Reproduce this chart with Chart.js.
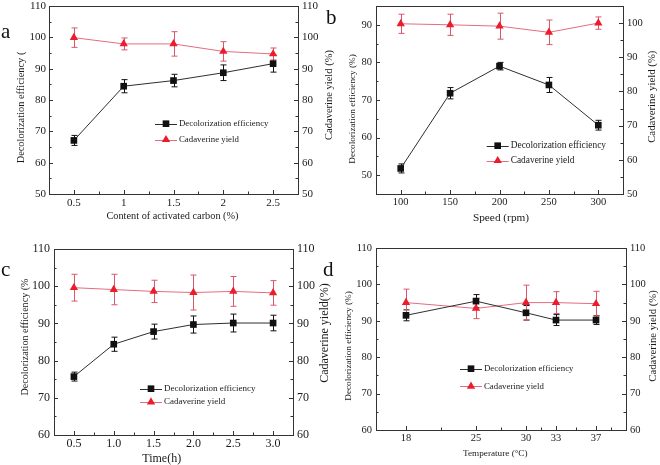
<!DOCTYPE html>
<html>
<head>
<meta charset="utf-8">
<title>Decolorization efficiency and cadaverine yield</title>
<script src="https://cdn.jsdelivr.net/npm/chart.js@4.4.1/dist/chart.umd.min.js"></script>
<style>
  html, body { margin: 0; padding: 0; background: #fff; }
  #figure { position: relative; width: 660px; height: 465px; overflow: hidden; }
  #figure canvas { position: absolute; }
  .tag { position: absolute; font-family: 'Liberation Serif', 'Times New Roman', serif; font-size: 21px; color: #111; line-height: 1; }
</style>
</head>
<body>
<div id="figure">
  <canvas id="grafico-a" width="345" height="232" style="left:0;top:0"></canvas>
  <canvas id="grafico-b" width="330" height="232" style="left:330px;top:0"></canvas>
  <canvas id="grafico-c" width="345" height="233" style="left:0;top:232px"></canvas>
  <canvas id="grafico-d" width="330" height="233" style="left:330px;top:232px"></canvas>
  <div class="tag" style="left:1px;top:21px">a</div>
  <div class="tag" style="left:326px;top:7px">b</div>
  <div class="tag" style="left:1px;top:259px">c</div>
  <div class="tag" style="left:323px;top:259px">d</div>
</div>
<script>
// a: content of activated carbon (%)
var carbonContent = [0.5, 1, 1.5, 2, 2.5];
var carbonDecol = [67.1, 84.4, 86.2, 88.7, 91.6];
var carbonDecolErr = [1.6, 2.1, 2.0, 2.5, 2.7];
var carbonYield = [99.9, 97.9, 97.9, 95.5, 94.7];
var carbonYieldErr = [3.1, 1.9, 3.9, 3.1, 1.9];

// b: speed (rpm)
var speedRpm = [100, 150, 200, 250, 300];
var speedDecol = [51.8, 71.8, 79.0, 74.0, 63.3];
var speedDecolErr = [1.2, 1.5, 1.0, 2.0, 1.3];
var speedYield = [99.8, 99.5, 99.1, 97.3, 100.0];
var speedYieldErr = [2.8, 3.1, 3.8, 3.6, 1.8];

// c: time (h)
var timeHours = [0.5, 1.0, 1.5, 2.0, 2.5, 3.0];
var timeDecol = [75.7, 84.4, 87.8, 89.7, 90.1, 90.1];
var timeDecolErr = [1.2, 1.9, 2.0, 2.3, 2.4, 2.1];
var timeYield = [99.6, 99.1, 98.6, 98.3, 98.6, 98.2];
var timeYieldErr = [3.6, 4.1, 3.0, 4.7, 4.0, 3.3];

// d: temperature (°C)
var tempC = [18, 25, 30, 33, 37];
var tempDecol = [91.5, 95.4, 92.2, 90.2, 90.2];
var tempDecolErr = [1.5, 1.8, 2.0, 1.5, 1.2];
var tempYield = [95.0, 93.4, 95.0, 95.0, 94.7];
var tempYieldErr = [3.7, 2.8, 4.8, 3.0, 3.4];

// tick positions
var ticks50to110 = [50, 60, 70, 80, 90, 100, 110];
var minor55to105 = [55, 65, 75, 85, 95, 105];
var ticks60to110 = [60, 70, 80, 90, 100, 110];
var minor65to105 = [65, 75, 85, 95, 105];
var speedLeftTicks = [50, 60, 70, 80, 90];
var speedLeftMinor = [45, 55, 65, 75, 85, 95];
var speedRightTicks = [50, 60, 70, 80, 90, 100];
var speedRightMinor = [55, 65, 75, 85, 95, 105];
var carbonMinor = [0.75, 1.25, 1.75, 2.25];
var speedMinor = [125, 175, 225, 275];
var timeMinor = [0.75, 1.25, 1.75, 2.25, 2.75];
var tempMinor = [21.5, 27.5, 31.5, 35, 38.5];

var legendNames = ['Decolorization efficiency', 'Cadaverine yield'];

var SERIF = "'Liberation Serif', 'Times New Roman', serif";
Chart.defaults.font.family = SERIF;
Chart.defaults.color = '#1a1a1a';
Chart.defaults.animation = false;

var decolColor = '#2e2e2e';
var yieldLine = '#e46c80';
var yieldMark = '#ec1c2c';
var yieldBar = '#d9566b';

var decoById = {};

function series(xs, ys) {
    return xs.map(function(x, i) { return {x: x, y: ys[i]}; });
}

function drawText(ctx, text, x, y, size, rotate) {
    ctx.save();
    ctx.translate(x, y);
    if (rotate) ctx.rotate(-Math.PI / 2);
    ctx.font = size + 'px ' + SERIF;
    ctx.fillStyle = '#1a1a1a';
    ctx.textAlign = 'center';
    ctx.textBaseline = 'middle';
    ctx.fillText(text, 0, 0);
    ctx.restore();
}

function drawMarker(ctx, style, x, y, r, color) {
    ctx.save();
    ctx.fillStyle = color;
    ctx.beginPath();
    if (style === 'rect') {
        var s = r * Math.SQRT1_2;
        ctx.rect(x - s, y - s, 2 * s, 2 * s);
    } else {
        ctx.moveTo(x, y - r);
        ctx.lineTo(x + r * 0.866, y + r / 2);
        ctx.lineTo(x - r * 0.866, y + r / 2);
        ctx.closePath();
    }
    ctx.fill();
    ctx.restore();
}

// error bars, frame, inward ticks, axis titles and legend
var panelDeco = {
    id: 'panelDeco',
    beforeDatasetsDraw: function(chart) {
        var ctx = chart.ctx;
        var xs = chart.scales.x;
        chart.data.datasets.forEach(function(ds) {
            var ys = chart.scales[ds.yAxisID];
            ctx.save();
            ctx.strokeStyle = ds.errorColor;
            ctx.lineWidth = 1;
            ds.data.forEach(function(p, j) {
                var e = ds.errorBars[j];
                var px = Math.round(xs.getPixelForValue(p.x)) + 0.5;
                var top = ys.getPixelForValue(p.y + e);
                var bot = ys.getPixelForValue(p.y - e);
                ctx.beginPath();
                ctx.moveTo(px, top); ctx.lineTo(px, bot);
                ctx.moveTo(px - 3, top); ctx.lineTo(px + 3, top);
                ctx.moveTo(px - 3, bot); ctx.lineTo(px + 3, bot);
                ctx.stroke();
            });
            ctx.restore();
        });
    },
    afterDraw: function(chart) {
        var d = decoById[chart.canvas.id];
        var ctx = chart.ctx;
        var a = chart.chartArea;
        var xs = chart.scales.x, yl = chart.scales.y, yr = chart.scales.y1;

        ctx.save();
        ctx.strokeStyle = '#333';
        ctx.lineWidth = 1;
        ctx.strokeRect(Math.round(a.left) + 0.5, Math.round(a.top) + 0.5,
                       Math.round(a.right - a.left), Math.round(a.bottom - a.top));
        ctx.beginPath();
        function xMark(v, len) {
            var px = Math.round(xs.getPixelForValue(v)) + 0.5;
            ctx.moveTo(px, a.bottom); ctx.lineTo(px, a.bottom - len);
        }
        function yMark(scale, v, len, right) {
            var py = Math.round(scale.getPixelForValue(v)) + 0.5;
            if (right) { ctx.moveTo(a.right, py); ctx.lineTo(a.right - len, py); }
            else { ctx.moveTo(a.left, py); ctx.lineTo(a.left + len, py); }
        }
        d.xTicks.forEach(function(v) { xMark(v, 4); });
        d.xMinor.forEach(function(v) { xMark(v, 2.5); });
        d.yTicks.forEach(function(v) { yMark(yl, v, 4, false); });
        d.yMinor.forEach(function(v) { yMark(yl, v, 2.5, false); });
        d.y1Ticks.forEach(function(v) { yMark(yr, v, 4, true); });
        d.y1Minor.forEach(function(v) { yMark(yr, v, 2.5, true); });
        ctx.stroke();
        ctx.restore();

        drawText(ctx, d.xTitle.text, d.xTitle.x, d.xTitle.y, d.xTitle.size, false);
        drawText(ctx, d.yTitle.text, d.yTitle.x, d.yTitle.y, d.yTitle.size, true);
        drawText(ctx, d.y1Title.text, d.y1Title.x, d.y1Title.y, d.y1Title.size, true);

        // legend
        var lg = d.legend;
        chart.data.datasets.forEach(function(ds, i) {
            var y = lg.y + i * lg.dy;
            ctx.save();
            ctx.strokeStyle = ds.borderColor;
            ctx.lineWidth = 1;
            ctx.beginPath();
            ctx.moveTo(lg.x, Math.round(y) + 0.5);
            ctx.lineTo(lg.x + 22, Math.round(y) + 0.5);
            ctx.stroke();
            ctx.restore();
            drawMarker(ctx, ds.pointStyle, lg.x + 11, y, ds.pointRadius, ds.pointBackgroundColor);
            ctx.save();
            ctx.font = lg.size + 'px ' + SERIF;
            ctx.fillStyle = '#1a1a1a';
            ctx.textBaseline = 'middle';
            ctx.fillText(ds.label, lg.x + 24, y);
            ctx.restore();
        });
    }
};

function makePanel(id, p) {
    decoById[id] = p;
    var ctx = document.getElementById(id).getContext('2d');
    function yScale(pos, min, max, ticks, width, pad, size) {
        return {
            type: 'linear', position: pos, min: min, max: max,
            grid: { display: false, drawTicks: false },
            border: { display: false },
            ticks: { padding: pad, font: { size: size }, color: '#1a1a1a' },
            afterBuildTicks: function(s) { s.ticks = ticks.map(function(v) { return {value: v}; }); },
            afterFit: function(s) { s.width = width; s.paddingTop = 0; s.paddingBottom = 0; }
        };
    }
    return new Chart(ctx, {
        type: 'line',
        data: {
            datasets: [{
                label: legendNames[0],
                data: series(p.x, p.dec),
                errorBars: p.decErr,
                errorColor: '#111',
                yAxisID: 'y',
                borderColor: decolColor,
                borderWidth: 1,
                pointStyle: 'rect',
                pointRadius: 4.7,
                pointBackgroundColor: '#111',
                pointBorderColor: '#111',
                pointBorderWidth: 0,
                tension: 0
            }, {
                label: legendNames[1],
                data: series(p.x, p.yld),
                errorBars: p.yldErr,
                errorColor: yieldBar,
                yAxisID: 'y1',
                borderColor: yieldLine,
                borderWidth: 1,
                pointStyle: 'triangle',
                pointRadius: 4.8,
                pointBackgroundColor: yieldMark,
                pointBorderColor: yieldMark,
                pointBorderWidth: 0,
                tension: 0
            }]
        },
        options: {
            responsive: false,
            animation: false,
            layout: { padding: { top: p.box.top, left: 0, right: 0, bottom: 0 } },
            plugins: { legend: { display: false }, tooltip: { enabled: false } },
            scales: {
                x: {
                    type: 'linear', min: p.xMin, max: p.xMax,
                    grid: { display: false, drawTicks: false },
                    border: { display: false },
                    ticks: {
                        autoSkip: false, maxRotation: 0, padding: p.xPad,
                        font: { size: p.tickSize }, color: '#1a1a1a',
                        callback: function(v) { return p.xFmt ? v.toFixed(1) : String(v); }
                    },
                    afterBuildTicks: function(s) { s.ticks = p.xTicks.map(function(v) { return {value: v}; }); },
                    afterFit: function(s) { s.height = p.box.xh; s.paddingLeft = 0; s.paddingRight = 0; }
                },
                y: yScale('left', p.yMin, p.yMax, p.yTicks, p.box.left, p.yPad, p.tickSize),
                y1: yScale('right', p.y1Min, p.y1Max, p.y1Ticks, p.box.right, p.y1Pad, p.tickSize)
            }
        },
        plugins: [panelDeco]
    });
}

makePanel('grafico-a', {
    x: carbonContent, dec: carbonDecol, decErr: carbonDecolErr, yld: carbonYield, yldErr: carbonYieldErr,
    xMin: 0.25, xMax: 2.75, xTicks: carbonContent, xMinor: carbonMinor,
    yMin: 50, yMax: 110, yTicks: ticks50to110, yMinor: minor55to105,
    y1Min: 50, y1Max: 110, y1Ticks: ticks50to110, y1Minor: minor55to105,
    box: { top: 6, left: 49, right: 47, xh: 38 },
    tickSize: 11, xPad: 3, yPad: 3, y1Pad: 4,
    xTitle: { text: 'Content of activated carbon (%)', x: 172.5, y: 216, size: 10.3 },
    yTitle: { text: 'Decolorization efficiency (', x: 21.7, y: 107.5, size: 10.4 },
    y1Title: { text: 'Cadaverine yield (%)', x: 329, y: 95, size: 10.5 },
    legend: { x: 155, y: 123.7, dy: 16, size: 8.8 }
});

makePanel('grafico-b', {
    x: speedRpm, dec: speedDecol, decErr: speedDecolErr, yld: speedYield, yldErr: speedYieldErr,
    xMin: 75, xMax: 325, xTicks: speedRpm, xMinor: speedMinor,
    yMin: 45, yMax: 95, yTicks: speedLeftTicks, yMinor: speedLeftMinor,
    y1Min: 50, y1Max: 105, y1Ticks: speedRightTicks, y1Minor: speedRightMinor,
    box: { top: 6, left: 46, right: 37, xh: 38 },
    tickSize: 10.5, xPad: 2, yPad: 4, y1Pad: 4,
    xTitle: { text: 'Speed (rpm)', x: 171, y: 218.3, size: 11.3 },
    yTitle: { text: 'Decolorization efficiency (%)', x: 22.5, y: 109, size: 9.2 },
    y1Title: { text: 'Cadaverine yield (%)', x: 321.7, y: 96.7, size: 10.8 },
    legend: { x: 156.7, y: 145.7, dy: 15, size: 9.4 }
});

makePanel('grafico-c', {
    x: timeHours, dec: timeDecol, decErr: timeDecolErr, yld: timeYield, yldErr: timeYieldErr,
    xMin: 0.25, xMax: 3.25, xTicks: timeHours, xMinor: timeMinor, xFmt: true,
    yMin: 60, yMax: 110, yTicks: ticks60to110, yMinor: minor65to105,
    y1Min: 60, y1Max: 110, y1Ticks: ticks60to110, y1Minor: minor65to105,
    box: { top: 17, left: 54, right: 52, xh: 30 },
    tickSize: 12, xPad: 2, yPad: 4, y1Pad: 4,
    xTitle: { text: 'Time(h)', x: 161.7, y: 227, size: 12 },
    yTitle: { text: 'Decolorization efficiency (%', x: 25, y: 105, size: 10.1 },
    y1Title: { text: 'Cadaverine yield(%)', x: 325, y: 101, size: 12 },
    legend: { x: 140, y: 156.7, dy: 13.3, size: 9 }
});

makePanel('grafico-d', {
    x: tempC, dec: tempDecol, decErr: tempDecolErr, yld: tempYield, yldErr: tempYieldErr,
    xMin: 15, xMax: 40, xTicks: tempC, xMinor: tempMinor,
    yMin: 60, yMax: 110, yTicks: ticks60to110, yMinor: minor65to105,
    y1Min: 60, y1Max: 110, y1Ticks: ticks60to110, y1Minor: minor65to105,
    box: { top: 16, left: 46, right: 34, xh: 35 },
    tickSize: 10.5, xPad: 2, yPad: 4, y1Pad: 4,
    xTitle: { text: 'Temperature (\u00B0C)', x: 165.3, y: 221.3, size: 9.2 },
    yTitle: { text: 'Decolorization efficiency (%)', x: 18.3, y: 114, size: 9.2 },
    y1Title: { text: 'Cadaverine yield (%)', x: 322.7, y: 104, size: 10.7 },
    legend: { x: 130, y: 136.7, dy: 17.6, size: 8.8 }
});
</script>
</body>
</html>
